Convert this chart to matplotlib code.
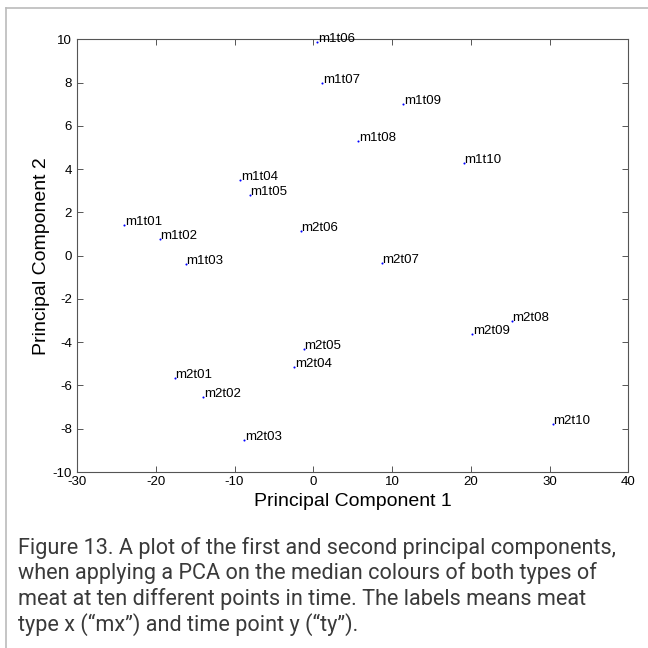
import matplotlib.pyplot as plt
from matplotlib.lines import Line2D

# PCA scores (PC1, PC2)
labels = ["m1t01", "m1t02", "m1t03", "m1t04", "m1t05",
          "m1t06", "m1t07", "m1t08", "m1t09", "m1t10",
          "m2t01", "m2t02", "m2t03", "m2t04", "m2t05",
          "m2t06", "m2t07", "m2t08", "m2t09", "m2t10"]
pc1 = [-24.0, -19.5, -16.2, -9.3, -8.1,
       0.5, 1.1, 5.7, 11.4, 19.1,
       -17.6, -14.0, -8.8, -2.4, -1.2,
       -1.6, 8.7, 25.2, 20.2, 30.4]
pc2 = [1.41, 0.76, -0.38, 3.48, 2.82,
       9.86, 8.0, 5.29, 7.0, 4.27,
       -5.67, -6.55, -8.54, -5.17, -4.3,
       1.15, -0.32, -3.04, -3.63, -7.78]

caption = ("Figure 13. A plot of the first and second principal components,\n"
           "when applying a PCA on the median colours of both types of\n"
           "meat at ten different points in time. The labels means meat\n"
           "type x (\u201cmx\u201d) and time point y (\u201cty\u201d).")

plt.rcParams["font.family"] = ["Liberation Sans", "DejaVu Sans"]
plt.rcParams["axes.unicode_minus"] = False

fig = plt.figure(figsize=(6.48, 6.48), dpi=100)
ax = fig.add_axes([0.1188, 0.2716, 0.851, 0.6678])

ax.plot(pc1, pc2, linestyle="none", marker="o", markersize=1.5,
        color="blue", markeredgewidth=0)
for x, y, s in zip(pc1, pc2, labels):
    ax.text(x + 0.1, y, s, fontsize=9.5, ha="left", va="baseline", color="black")

ax.set_xlim(-30, 40)
ax.set_ylim(-10, 10)
ax.set_xticks(range(-30, 41, 10))
ax.set_yticks(range(-10, 11, 2))
ax.tick_params(direction="in", length=4, width=0.7, labelsize=9.5,
               top=True, right=True, colors="#555555", labelcolor="black")
ax.tick_params(axis="x", pad=3)
for sp in ax.spines.values():
    sp.set_color("#555555")
    sp.set_linewidth(0.8)

ax.set_xlabel("Principal Component 1", fontsize=14, labelpad=3.5)
ax.set_ylabel("Principal Component 2", fontsize=14, labelpad=2)

# page border (top and left only)
fig.add_artist(Line2D([6 / 648, 1.0], [1 - 8 / 648, 1 - 8 / 648],
                      color="#bbbbbb", linewidth=1.2))
fig.add_artist(Line2D([6 / 648, 6 / 648], [0.0, 1 - 8 / 648],
                      color="#bbbbbb", linewidth=1.2))

fig.text(18 / 648, 1 - 537 / 648, caption, fontsize=15.6, family=["Roboto", "DejaVu Sans"],
         color="#3a3a3a", ha="left", va="top", linespacing=1.2)

fig.savefig("out.png", dpi=100)
